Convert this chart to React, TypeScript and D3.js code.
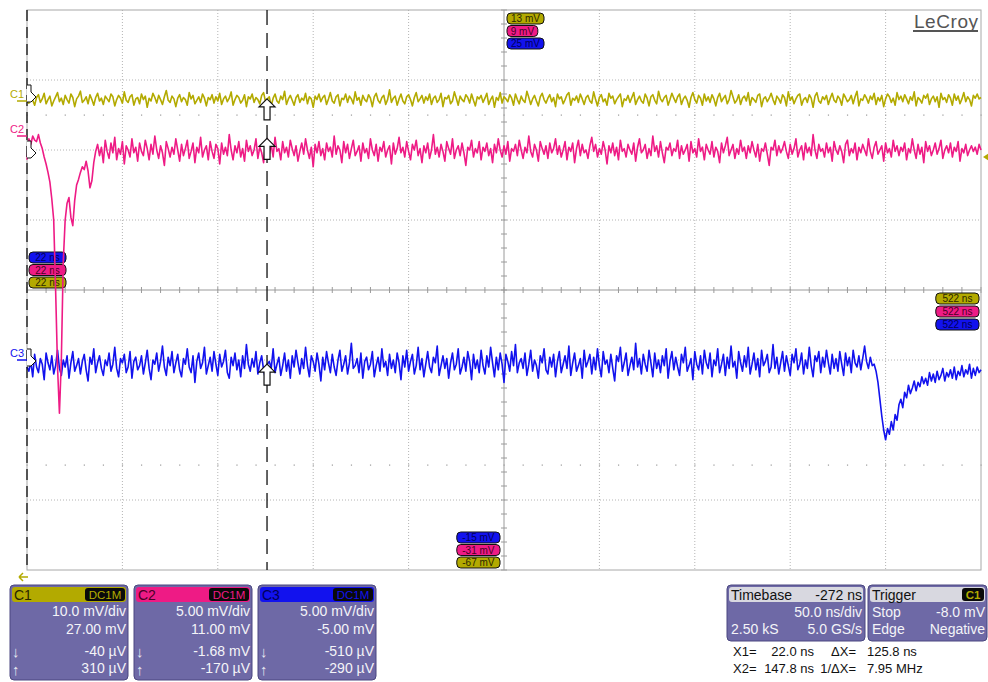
import * as d3 from 'd3';

const WIDTH = 988;
const HEIGHT = 682;
const PLOT = { left: 27, right: 981, top: 10, bottom: 570 };
const FONT = 'Liberation Sans, Arial, sans-serif';

// time base (ns)
const T_START = 22;
const T_END = 522;
const X1_NS = 22.0;
const X2_NS = 147.8;
const TRIGGER_LEVEL_MV = -8.0;

// channel settings
const channelNames = ['C1', 'C2', 'C3'];
const mvPerDiv = [10, 5, 5];
const offsetMv = [27, 11, -5];
const couplingLabels = ['DC1M', 'DC1M', 'DC1M'];
const vdivLabels = ['10.0 mV/div', '5.00 mV/div', '5.00 mV/div'];
const offsetLabels = ['27.00 mV', '11.00 mV', '-5.00 mV'];
const x1Labels = ['-40 µV', '-1.68 mV', '-510 µV'];
const x2Labels = ['310 µV', '-170 µV', '-290 µV'];
const cursorX2Mv = [0.31, -0.17, -0.29];

const COLORS = ['#b3aa00', '#ee1b85', '#1212ee'];
const DARK_TEXT = ['#2a2700', '#4a0025', '#00005a'];
const FLAG_SHIFT = [-4, 17, 1];

// timebase / trigger panels
const timebaseRows = [['Timebase', '-272 ns'], ['', '50.0 ns/div'], ['2.50 kS', '5.0 GS/s']];
const triggerRows = [['Trigger', ''], ['Stop', '-8.0 mV'], ['Edge', 'Negative']];
const cursorRows = [
  ['X1=', '22.0 ns', 'ΔX=', '125.8 ns'],
  ['X2=', '147.8 ns', '1/ΔX=', '7.95 MHz'],
];

// sampled traces, mV, evenly spaced from T_START to T_END
const c1Mv = [
  0.0, -0.3, 0.8, 0.1, -0.6, 0.5, 0.9, -0.2, 0.3, 1.1, -0.4, 0.2, 0.7, -0.7, 0.0, 0.6, 1.2, -0.1, 0.4, -0.5,
  0.8, 0.2, -0.3, 1.0, 0.5, -0.8, 0.3, 0.7, 1.4, -0.2, 0.1, 0.6, -0.4, 0.9, 0.2, -0.6, 0.5, 1.1, 0.0, 0.4,
  -0.5, 0.7, 0.3, -0.1, 1.0, 0.6, -0.7, 0.2, 0.8, 0.4, -0.3, 1.3, 0.1, -0.2, 0.6, 0.9, -0.6, 0.3, 0.5, -0.4,
  1.0, 0.2, 0.7, -0.9, 0.4, 0.0, 1.1, 0.5, -0.3, 0.8, 0.2, -0.5, 0.6, 1.5, 0.1, -0.2, 0.7, 0.3, -0.8, 0.4,
  0.9, -0.1, 0.5, 0.2, -0.6, 1.2, 0.3, 0.8, -0.4, 0.1, 0.6, -0.2, 1.0, 0.4, -0.7, 0.5, 0.2, 0.9, -0.3, 0.6,
  0.0, 1.1, -0.5, 0.3, 0.7, -0.1, 0.4, 1.3, -0.6, 0.2, 0.8, 0.5, -0.3, 0.1, 0.9, -0.8, 0.6, 0.3, 1.0, -0.2,
  0.5, 0.2, -0.4, 0.8, 1.2, -0.1, 0.3, 0.6, -0.7, 0.4, 1.0, 0.0, -0.3, 0.7, 0.2, 1.4, -0.5, 0.3, 0.8, 0.1,
  -0.6, 0.5, 0.9, -0.2, 0.4, 0.1, 1.1, -0.4, 0.6, 0.3, -0.9, 0.7, 0.2, 1.0, -0.1, 0.5, 0.8, -0.5, 0.3, 1.2,
  0.0, -0.3, 0.6, 0.9, -0.7, 0.4, 0.2, 1.0, -0.2, 0.7, 0.3, -0.4, 1.3, 0.1, 0.5, -0.6, 0.8, 0.2, -0.1, 0.9,
  0.4, -0.8, 0.6, 1.1, 0.1, -0.3, 0.5, 0.8, -0.5, 0.2, 1.6, -0.2, 0.4, 0.7, -0.6, 0.3, 1.0, 0.0, -0.4, 0.6,
  0.9, 0.2, -0.7, 0.5, 1.2, -0.1, 0.3, 0.8, -0.3, 0.6, 0.1, 1.0, -0.5, 0.4, 0.7, -0.2, 0.2, 1.1, -0.8, 0.5,
  0.3, 0.8, -0.4, 0.0, 1.3, 0.4, -0.6, 0.7, 0.2, -0.1, 0.9, 0.5, -0.3, 1.0, 0.1, -0.7, 0.6, 0.3, 0.8, -0.2,
  0.4, 1.1, -0.5, 0.2, 0.7, -0.9, 0.5, 0.1, 1.2, -0.3, 0.6, 0.3, -0.1, 0.9, 0.4, -0.6, 1.0, 0.2, -0.4, 0.7,
  0.1, -0.2, 1.4, 0.5, -0.5, 0.3, 0.8, 0.0, -0.7, 0.6, 1.1, 0.2, -0.3, 0.4, 0.9, -0.1, 0.5, -0.8, 1.0, 0.3,
  0.6, -0.4, 0.2, 0.9, 1.2, -0.6, 0.4, 0.1, 0.7, -0.2, 1.0, 0.3, -0.5, 0.5, 0.8, 0.0, -0.3, 1.3, 0.2, -0.7,
  0.5, 0.9, -0.1, 0.3, -0.6, 1.1, 0.4, 0.7, -0.4, 0.2, 0.6, 1.0, -0.8, 0.3, 0.1, 0.8, -0.2, 0.5, 1.2, -0.5,
  0.2, 0.7, 0.0, -0.3, 1.0, 0.4, -0.7, 0.6, 0.9, 0.1, -0.4, 1.4, 0.3, -0.1, 0.5, 0.8, -0.6, 0.2, 1.1, 0.4,
  -0.2, 0.6, 1.0, -0.5, 0.3, 0.7, 0.1, -0.9, 0.5, 1.2, 0.2, -0.3, 0.8, 0.4, -0.6, 1.0, 0.0, 0.6, -0.2, 0.9,
  0.3, -0.7, 0.5, 1.1, -0.1, 0.4, 0.8, -0.4, 0.2, 1.5, 0.6, -0.3, 0.1, 0.9, -0.5, 0.4, 0.7, 0.0, 1.2, -0.6,
  0.5, 0.2, -0.2, 0.8, 1.0, -0.8, 0.3, 0.6, -0.1, 0.4, 1.1, 0.2, -0.5, 0.7, 0.3, -0.3, 0.9, 0.5, -0.7, 1.3,
  0.1, 0.6, -0.4, 0.3, 0.8, 1.0, -0.6, 0.2, 0.5, -0.2, 0.9, 0.4, -0.9, 0.7, 1.2, 0.0, -0.3, 0.6, 0.2, 0.8,
  -0.5, 0.4, 1.1, 0.1, -0.2, 0.7, 0.3, -0.6, 1.0, 0.5, -0.1, 0.2, 0.8, -0.4, 0.6, 1.4, -0.7, 0.3, 0.1, 0.9,
  0.4, -0.3, 0.7, 0.2, 1.1, -0.5, 0.5, 0.0, 0.8, -0.8, 0.3, 1.0, 0.6, -0.2, 0.4, -0.6, 1.2, 0.2, 0.7, -0.1,
  0.9, 0.3, -0.4, 0.6, 0.1, 1.3, -0.7, 0.5, 0.2, -0.3, 0.8, 0.4, 1.0, -0.5, 0.3, 0.7, -0.1, 0.6, -0.9, 1.1,
  0.2, 0.5, -0.2, 0.9, 0.4, -0.6, 1.0, 0.1, 0.7, -0.4, 0.3, 1.2, -0.1, 0.6, 0.2, -0.7, 0.8, 0.4, 1.0, 0.3, 0.5,
];

const c2Mv = [
  -1.7, -0.2, -0.6, 0.0, -0.3, -0.4, 0.1, -0.5, -0.9,
  -1.5, -2.0, -2.6, -3.3, -4.5, -6.0, -11.0, -16.5, -19.8, -16.0, -9.0, -6.0, -4.8, -4.4, -5.8, -6.4, -4.6, -3.5,
  -3.1, -2.6, -2.2, -2.4, -1.8, -2.5, -3.7, -3.2, -1.9, -1.1,
  -0.6, -1.4, -0.8, -1.9, -0.3, -1.1, -1.6, -0.5, -1.2, -0.1, -1.7, -0.9, -1.3, -0.4, -2.0, -0.7, -1.0, -1.5, -0.2, -1.2,
  -0.8, -1.8, -0.5, -1.1, -1.4, -0.3, -0.9, -1.7, -0.6, -1.3, 0.0, -1.0, -1.6, -0.7, -1.2, -2.1, -0.4, -0.9, -1.5, -0.8,
  -1.3, -0.2, -1.0, -1.8, -0.6, -1.4, -0.9, -0.3, -1.6, -1.1, -0.5, -1.9, -0.8, -1.2, -0.1, -1.5, -1.0, -0.7, -1.7, -0.4,
  -1.1, -1.6, -0.6, -0.9, -2.0, -0.5, -1.3, -0.8, -1.4, 0.1, -1.0, -1.7, -0.7, -1.2, -0.4, -1.5, -0.9, -1.8, -0.3, -1.1,
  -0.7, -1.4, -1.0, -0.2, -1.6, -0.8, -1.2, -1.9, -0.5, -0.2, -1.3, -0.6, -1.5, -0.1, -1.1, -0.9, -1.7, -0.4, -1.2, -0.8,
  -1.5, -0.3, -0.9, -1.4, -0.7, -1.8, -1.1, -0.5, -1.3, -0.2, -1.0, -1.6, -0.8, -2.2, -0.6, -1.2, -0.4, -1.4, -0.9, -1.7,
  -0.5, -1.1, -0.8, -1.5, 0.0, -1.3, -0.7, -1.0, -1.9, -0.4, -1.2, -0.6, -1.6, -0.9, -0.3, -1.4, -1.1, -0.7, -1.8, -0.5,
  -1.2, -0.9, -1.6, -0.2, -1.0, -1.4, -0.6, -1.8, -0.8, -1.1, -0.4, -1.5, -1.0, -0.7, -2.0, -0.5, -1.3, -0.9, -0.1, -1.2,
  -0.8, -1.5, -0.4, -1.1, -1.7, -0.6, -1.0, -0.3, -1.4, -0.9, -1.9, -0.7, -1.2, -0.5, -1.6, -1.0, 0.1, -1.3, -0.8, -1.5,
  -0.6, -1.1, -1.8, -0.4, -0.9, -1.3, -0.2, -1.6, -1.0, -0.7, -1.4, -0.5, -1.2, -2.1, -0.8, -1.0, -0.3, -1.5, -0.9, -1.2,
  -0.4, -1.7, -0.8, -1.1, -0.5, -1.4, -0.9, -1.9, -0.6, -1.2, -0.2, -1.0, -1.5, -0.7, -1.3, -0.4, -1.8, -0.9, -1.1, -0.6,
  -1.4, -0.3, -1.0, -1.6, -0.8, -1.2, 0.0, -1.1, -1.5, -0.6, -1.0, -1.8, -0.4, -0.9, -1.3, -0.7, -1.6, -0.5, -1.2, -0.9,
  -0.2, -1.3, -0.7, -1.5, -1.0, -0.4, -1.7, -0.8, -1.1, -0.5, -1.9, -0.9, -0.3, -1.4, -0.6, -1.2, -1.0, -1.6, -0.7, -0.1,
  -1.1, -0.6, -1.5, -0.9, -1.3, -0.4, -1.0, -2.0, -0.7, -1.2, -0.5, -1.4, -0.8, -1.7, -0.3, -1.1, -0.9, -1.5, -0.6, -1.0,
  -1.3, -0.5, -1.8, -0.8, -0.2, -1.2, -1.0, -0.6, -1.6, -0.9, -1.4, 0.0, -1.1, -0.7, -1.5, -0.4, -1.2, -1.9, -0.8, -1.0,
  -0.5, -1.4, -0.9, -1.1, -0.3, -1.6, -0.7, -1.3, -1.0, -0.6, -1.8, -0.4, -1.2, -0.9, -1.5, -0.2, -1.1, -0.8, -1.7, -0.6,
  -1.0, -1.3, -0.4, -1.5, -0.8, -1.1, -1.9, -0.5, -1.2, -0.7, -0.1, -1.4, -1.0, -0.6, -1.6, -0.9, -1.3, -0.3, -1.1, -0.8,
  -1.6, -0.7, -1.2, -0.4, -1.0, -1.5, -0.6, -1.8, -0.9, -1.1, -0.5, -1.3, -2.1, -0.8, -1.0, -0.3, -1.4, -0.7, -1.2, -0.9,
  -0.4, -1.1, -1.6, -0.6, -1.3, -0.9, -0.2, -1.5, -1.0, -0.7, -1.7, -0.5, -1.2, -0.8, -1.4, 0.1, -1.0, -1.6, -0.6, -1.1,
  -0.9, -1.5, -0.5, -1.2, -0.8, -1.8, -0.4, -1.0, -1.3, -0.7, -1.1, -1.9, -0.6, -0.3, -1.4, -0.9, -1.2, -0.5, -1.7, -0.8,
  -1.2, -0.6, -1.0, -1.4, -0.2, -1.1, -1.6, -0.8, -0.4, -1.3, -1.0, -0.7, -1.8, -0.5, -1.2, -0.9, -1.5, -0.3, -1.1, -0.7,
  -1.4, -0.8, -1.1, -0.5, -1.7, -0.9, -1.2, -0.2, -1.0, -1.6, -0.6, -1.3, -0.8, -1.9, -0.4, -1.1, -0.7, -1.4, -1.0, -0.5,
  -1.3, -0.9, -0.3, -1.6, -1.0, -0.7, -1.2, -0.5, -1.5, -0.8, -1.1, -0.4, -1.8, -0.9, -1.2, -0.6, -1.4, -1.0, -0.7, -1.1,
  -0.8, -1.3, -0.6, -1.0,
];

const c3Mv = [
  -0.5, -0.8, -0.1, -1.2, 0.4, -0.5, -0.9, 0.1, -0.3, -1.4, 0.5, -0.2, -0.7, 0.3, -1.0, -0.4, 0.7, -0.6, -1.1, 0.0,
  -0.5, 0.3, -1.3, -0.2, 0.6, -0.8, -0.4, 0.1, -1.0, -0.1, 0.4, -0.7, -1.5, 0.2, -0.3, 0.8, -0.9, -0.2, 0.3, -0.6,
  -1.1, 0.0, -0.4, 0.5, -0.8, -0.3, 0.9, -0.6, -1.2, 0.1, -0.2, 0.4, -0.9, -0.5, 0.6, -1.3, -0.1, 0.2, -0.7, -0.4,
  0.3, -1.0, -0.2, 0.7, -0.6, -1.4, 0.0, -0.3, 0.5, -0.8, -0.1, 1.0, -0.5, -1.1, 0.2, -0.4, 0.6, -0.9, -0.2, 0.4,
  -0.7, -1.2, 0.1, -0.3, 0.8, -0.5, -0.9, 0.3, -1.6, -0.1, 0.5, -0.6, -0.2, 0.9, -1.0, -0.4, 0.2, -0.8, 0.6, -0.3,
  -1.1, 0.4, -0.5, -0.1, 0.7, -0.9, -1.3, 0.2, -0.4, 0.5, -0.7, 0.0, -1.2, 0.3, -0.6, 1.1, -0.3, -0.8, 0.1, -0.5,
  0.6, -1.0, -0.2, 0.3, -0.7, -1.4, -0.3, -0.1, -0.6, 0.8, -0.9, -0.3, 0.2, -1.1, -0.4, 0.5, -0.8, 0.0, -1.3, 0.3,
  -0.5, 0.7, -0.2, -1.0, 0.1, -0.6, 0.9, -0.4, -1.2, 0.3, -0.1, -0.8, 0.5, -0.3, -1.5, 0.2, -0.7, 0.6, -0.2, -0.9,
  0.4, -0.5, -1.1, 0.0, 0.7, -0.8, -0.3, 0.3, -1.0, -0.2, 1.2, -0.6, -0.4, 0.1, -0.9, 0.5, -1.3, -0.1, 0.2, -0.7,
  -0.3, 0.6, -1.2, -0.4, 0.2, -0.8, 0.8, -0.5, -0.1, -1.1, 0.4, -0.6, 0.0, -0.9, 0.5, -0.2, -1.4, 0.3, -0.5, 0.7,
  -0.8, -0.1, 0.4, -1.0, -0.4, 0.9, -0.7, 0.1, -1.2, -0.3, 0.6, -0.5, -0.9, 0.2, -0.2, 1.0, -1.1, -0.4, 0.3, -0.6,
  0.1, -1.3, -0.2, 0.5, -0.7, -0.3, 0.8, -1.0, -0.5, 0.2, -0.8, 0.6, -0.1, -1.4, 0.4, -0.6, 0.0, -0.9, 0.7, -0.4,
  -1.0, 0.3, -0.5, 0.9, -0.2, -1.2, 0.2, -0.7, 0.5, -0.3, -1.6, 0.4, -0.1, -0.8, 0.6, -0.4, 1.1, -0.9, -0.2, 0.1,
  -0.6, 0.5, -1.1, -0.3, 0.7, -0.8, 0.0, -0.4, -1.3, 0.3, -0.2, 0.8, -0.7, -1.0, 0.2, -0.5, 0.4, -1.2, -0.1, 0.6,
  -0.9, -0.3, 0.3, -0.6, 1.0, -1.1, -0.2, 0.5, -0.8, -0.4, 0.1, -1.3, 0.7, -0.5, -0.1, 0.4, -1.0, 0.2, -0.7, 0.8,
  -0.4, -1.2, 0.6, -0.3, 0.0, -0.9, 0.4, -0.6, -1.5, 0.3, -0.1, 0.9, -0.8, -0.2, 0.5, -1.1, -0.4, 0.2, -0.7, 1.2,
  -0.5, 0.1, -1.0, 0.4, -0.3, -0.8, 0.7, -0.2, -1.2, 0.5, -0.6, 0.0, -0.9, 0.3, -0.4, 0.8, -1.3, -0.1, 0.6, -0.7,
  0.2, -0.5, -1.1, 0.4, -0.2, 0.9, -0.8, -0.4, 0.1, -1.4, 0.6, -0.3, -0.7, 0.3, -1.0, 0.7, -0.2, -0.6, 0.5, -1.2,
  0.0, -0.4, 0.8, -0.9, -0.3, 0.4, -1.1, 0.2, -0.6, 1.0, -0.5, -0.1, -1.3, 0.6, -0.2, -0.8, 0.3, -0.5, 0.9, -1.0,
  -0.3, 0.5, -0.7, 0.1, -1.2, 0.7, -0.4, -0.1, 0.4, -0.9, -0.5, 1.1, -0.6, 0.2, -1.0, -0.2, 0.6, -0.8, 0.3, -0.4,
  -1.1, 0.4, -0.2, 0.8, -0.7, -0.3, 0.5, -1.0, 0.0, -0.6, 0.9, -0.4, -1.2, 0.3, -0.1, 0.6, -0.9, 0.2, -0.5, 0.7,
  -0.2, -1.0, 0.4, -0.6, 0.1, -0.8, 0.6, -0.3, -1.1, 0.5, -0.4, 0.2, -0.9, 0.7, -0.2, -0.5, 0.3, -0.7, 0.1,
  1.0, -0.1, -0.6, 0.2, -0.4, -0.3, -0.8, -1.6, -2.8, -4.0, -5.0, -5.7, -4.9, -5.3, -4.4, -5.0, -3.9, -4.3, -3.2, -2.8,
  -3.4, -2.3, -2.7, -1.8, -2.4, -2.0, -1.5, -2.2, -1.6, -1.9, -1.2, -1.7, -1.3, -1.8, -0.9, -1.5, -1.0, -1.6, -0.8, -1.4,
  -1.1, -0.6, -1.5, -0.9, -1.2, -0.7, -1.3, -0.5, -1.4, -0.8, -1.1, -0.4, -1.2, -0.7, -1.0, -0.3, -1.3, -0.6, -1.1, -0.5,
  -0.9, -0.7,
];

const traces = [c1Mv, c2Mv, c3Mv];
const drawOrder = [2, 0, 1];

const xScale = d3.scaleLinear().domain([T_START, T_END]).range([PLOT.left, PLOT.right]);
const yScale = d3.scaleLinear().domain([-4, 4]).range([PLOT.bottom, PLOT.top]);
const toDiv = (ch: number, mv: number) => (mv + offsetMv[ch]) / mvPerDiv[ch];
const divX = d3.scaleLinear().domain([0, 10]).range([PLOT.left, PLOT.right]);

function tracePath(ch: number) {
  const vals = traces[ch];
  const dt = (T_END - T_START) / (vals.length - 1);
  return (
    d3
      .line<number>()
      .x((_, i) => xScale(T_START + i * dt))
      .y((v) => yScale(toDiv(ch, v)))(vals) || ''
  );
}

function Pill({ x, y, text, ch, anchor }: { x: number; y: number; text: string; ch: number; anchor: 'start' | 'end' }) {
  const w = text.length * 6.2 + 6;
  const x0 = anchor === 'end' ? x - w : x;
  return (
    <g>
      <rect x={x0} y={y} width={w} height={11} rx={4} fill={COLORS[ch]} stroke="#111" strokeWidth={1} />
      <text x={x0 + w / 2} y={y + 9} textAnchor="middle" fontSize={10} fill={DARK_TEXT[ch]}>
        {text}
      </text>
    </g>
  );
}

function UpArrow({ x, y }: { x: number; y: number }) {
  const d = `M${x},${y} L${x + 8},${y + 8} L${x + 3},${y + 8} L${x + 3},${y + 21} L${x - 3},${y + 21} L${x - 3},${y + 8} L${x - 8},${y + 8} Z`;
  return <path d={d} fill="#fff" stroke="#111" strokeWidth={1.2} />;
}

export default function App() {
  const hLines = d3.range(-3, 4);
  const vLines = d3.range(1, 10);
  const minorX = d3.range(0, 10.001, 0.2);
  const minorY = d3.range(-4, 4.001, 0.2);
  const cx = divX(5);
  const cy = yScale(0);
  const x2px = xScale(X2_NS);

  return (
    <svg
      width={WIDTH}
      height={HEIGHT}
      style={{ position: 'absolute', left: 0, top: 0, background: '#fff' }}
      fontFamily={FONT}
    >
      <rect x={0} y={0} width={WIDTH} height={HEIGHT} fill="#fff" />

      {/* grid */}
      {vLines
        .filter((k) => k !== 5)
        .map((k) => (
          <line key={'v' + k} x1={divX(k)} x2={divX(k)} y1={PLOT.top} y2={PLOT.bottom} stroke="#b4b4b4" strokeDasharray="1,2" />
        ))}
      {hLines
        .filter((k) => k !== 0)
        .map((k) => (
          <line key={'h' + k} x1={PLOT.left} x2={PLOT.right} y1={yScale(k)} y2={yScale(k)} stroke="#b4b4b4" strokeDasharray="1,2" />
        ))}
      {[-2.5, 2.5].map((r) =>
        minorX.map((m, i) => <rect key={`d${r}-${i}`} x={divX(m) - 0.5} y={yScale(r) - 0.5} width={1.2} height={1.2} fill="#999" />)
      )}

      {/* center axes */}
      <line x1={PLOT.left} x2={PLOT.right} y1={cy} y2={cy} stroke="#9a9a9a" />
      <line x1={cx} x2={cx} y1={PLOT.top} y2={PLOT.bottom} stroke="#9a9a9a" />
      {minorX.map((m, i) => (
        <line key={'tx' + i} x1={divX(m)} x2={divX(m)} y1={cy - 3} y2={cy + 3} stroke="#9a9a9a" />
      ))}
      {minorY.map((m, i) => (
        <line key={'ty' + i} x1={cx - 3} x2={cx + 3} y1={yScale(m)} y2={yScale(m)} stroke="#9a9a9a" />
      ))}

      {/* frame */}
      <rect x={PLOT.left} y={PLOT.top} width={PLOT.right - PLOT.left} height={PLOT.bottom - PLOT.top} fill="none" stroke="#a8a8a8" />

      <text x={978} y={28} textAnchor="end" fontSize={19} fill="#555" textLength={64}>
        LeCroy
      </text>
      <line x1={913} x2={978} y1={31} y2={31} stroke="#555" strokeWidth={2} />

      {/* screen range labels */}
      {[0, 1, 2].map((ch, k) => (
        <Pill key={'top' + ch} x={cx + 3} y={yScale(4) + 3 + k * 12.5} text={`${4 * mvPerDiv[ch] - offsetMv[ch]} mV`} ch={ch} anchor="start" />
      ))}
      {[2, 1, 0].map((ch, k) => (
        <Pill key={'bot' + ch} x={cx - 4} y={yScale(-4) - 38 + k * 12.5} text={`${-4 * mvPerDiv[ch] - offsetMv[ch]} mV`} ch={ch} anchor="end" />
      ))}
      {[2, 1, 0].map((ch, k) => (
        <Pill key={'l' + ch} x={PLOT.left + 2} y={cy - 38 + k * 12.5} text={`${T_START} ns`} ch={ch} anchor="start" />
      ))}
      {[0, 1, 2].map((ch, k) => (
        <Pill key={'r' + ch} x={PLOT.right - 2} y={cy + 3 + k * 13} text={`${T_END} ns`} ch={ch} anchor="end" />
      ))}

      {/* traces */}
      {drawOrder.map((ch) => (
        <path key={'tr' + ch} d={tracePath(ch)} fill="none" stroke={COLORS[ch]} strokeWidth={1.6} strokeLinejoin="round" />
      ))}

      {/* cursors */}
      <line x1={xScale(X1_NS)} x2={xScale(X1_NS)} y1={PLOT.top} y2={PLOT.bottom} stroke="#111" strokeWidth={1.3} strokeDasharray="11,6" />
      <line x1={x2px} x2={x2px} y1={PLOT.top} y2={PLOT.bottom} stroke="#111" strokeWidth={1.3} strokeDasharray="15,8" />
      {[0, 1, 2].map((ch) => (
        <UpArrow key={'ua' + ch} x={x2px} y={yScale(toDiv(ch, cursorX2Mv[ch]))} />
      ))}

      {/* channel ground markers */}
      {[0, 1, 2].map((ch) => {
        const g = yScale(toDiv(ch, 0));
        const f = g + FLAG_SHIFT[ch];
        return (
          <g key={'gm' + ch}>
            <text x={10} y={g - 3} fontSize={11} fill={COLORS[ch]}>
              {channelNames[ch]}
            </text>
            <line x1={17} x2={PLOT.left} y1={g} y2={g} stroke={COLORS[ch]} strokeWidth={1.5} />
            <path
              d={`M${PLOT.left},${f - 12} H${PLOT.left + 4} V${f - 5} L${PLOT.left + 9},${f} L${PLOT.left + 4},${f + 5} H${PLOT.left}`}
              fill="#fff"
              stroke="#111"
              strokeWidth={1}
            />
          </g>
        );
      })}

      {/* trigger level & position */}
      {(() => {
        const ty = yScale(toDiv(0, TRIGGER_LEVEL_MV));
        return <path d={`M${PLOT.right + 2},${ty} L${PLOT.right + 8},${ty - 4} L${PLOT.right + 8},${ty + 4} Z`} fill={COLORS[0]} />;
      })()}
      <path d="M28,577 H19 M19,577 L23,573 M19,577 L23,581" stroke={COLORS[0]} strokeWidth={1.5} fill="none" />

      {/* channel panels */}
      {[0, 1, 2].map((ch) => {
        const x0 = 10 + ch * 124;
        const w = 118;
        return (
          <g key={'p' + ch}>
            <rect x={x0} y={585} width={w} height={95} rx={4} fill="#6e69a6" stroke="#4a4780" />
            <rect x={x0 + 2} y={587} width={w - 4} height={15} rx={3} fill={COLORS[ch]} />
            <text x={x0 + 4} y={600} fontSize={14} fill={DARK_TEXT[ch]}>
              {channelNames[ch]}
            </text>
            <rect x={x0 + 75} y={588} width={40} height={13} rx={3} fill="#0a0a0a" />
            <text x={x0 + 95} y={599} textAnchor="middle" fontSize={11.5} fill={COLORS[ch]}>
              {couplingLabels[ch]}
            </text>
            <text x={x0 + w - 2} y={616} textAnchor="end" fontSize={14} fill="#f4f4f8">
              {vdivLabels[ch]}
            </text>
            <text x={x0 + w - 2} y={634} textAnchor="end" fontSize={14} fill="#f4f4f8">
              {offsetLabels[ch]}
            </text>
            <text x={x0 + w - 2} y={656} textAnchor="end" fontSize={14} fill="#f4f4f8">
              {x1Labels[ch]}
            </text>
            <text x={x0 + w - 2} y={673} textAnchor="end" fontSize={14} fill="#f4f4f8">
              {x2Labels[ch]}
            </text>
            <text x={x0 + 2} y={657} fontSize={15} fill="#e8e8f0">
              ↓
            </text>
            <text x={x0 + 2} y={675} fontSize={15} fill="#e8e8f0">
              ↑
            </text>
          </g>
        );
      })}

      {/* timebase panel */}
      <rect x={727} y={585} width={138} height={56} rx={4} fill="#6e69a6" stroke="#4a4780" />
      <rect x={729} y={587} width={134} height={15} rx={3} fill="#d8d8e0" />
      {timebaseRows.map((r, i) => (
        <g key={'tb' + i}>
          <text x={731} y={600 + i * 17} fontSize={14} fill={i === 0 ? '#111' : '#f4f4f8'}>
            {r[0]}
          </text>
          <text x={862} y={600 + i * 17} textAnchor="end" fontSize={14} fill={i === 0 ? '#111' : '#f4f4f8'}>
            {r[1]}
          </text>
        </g>
      ))}

      {/* trigger panel */}
      <rect x={868} y={585} width={119} height={56} rx={4} fill="#6e69a6" stroke="#4a4780" />
      <rect x={870} y={587} width={115} height={15} rx={3} fill="#d8d8e0" />
      <rect x={962} y={588} width={22} height={13} rx={3} fill="#0a0a0a" />
      <text x={973} y={599} textAnchor="middle" fontSize={11.5} fontWeight="bold" fill={COLORS[0]}>
        {channelNames[0]}
      </text>
      {triggerRows.map((r, i) => (
        <g key={'tg' + i}>
          <text x={872} y={600 + i * 17} fontSize={14} fill={i === 0 ? '#111' : '#f4f4f8'}>
            {r[0]}
          </text>
          <text x={985} y={600 + i * 17} textAnchor="end" fontSize={14} fill="#f4f4f8">
            {r[1]}
          </text>
        </g>
      ))}

      {/* cursor readout */}
      {cursorRows.map((r, i) => (
        <g key={'cr' + i} fontSize={13} fill="#111">
          <text x={733} y={656 + i * 17}>
            {r[0]}
          </text>
          <text x={814} y={656 + i * 17} textAnchor="end">
            {r[1]}
          </text>
          <text x={856} y={656 + i * 17} textAnchor="end">
            {r[2]}
          </text>
          <text x={867} y={656 + i * 17}>
            {r[3]}
          </text>
        </g>
      ))}
    </svg>
  );
}
